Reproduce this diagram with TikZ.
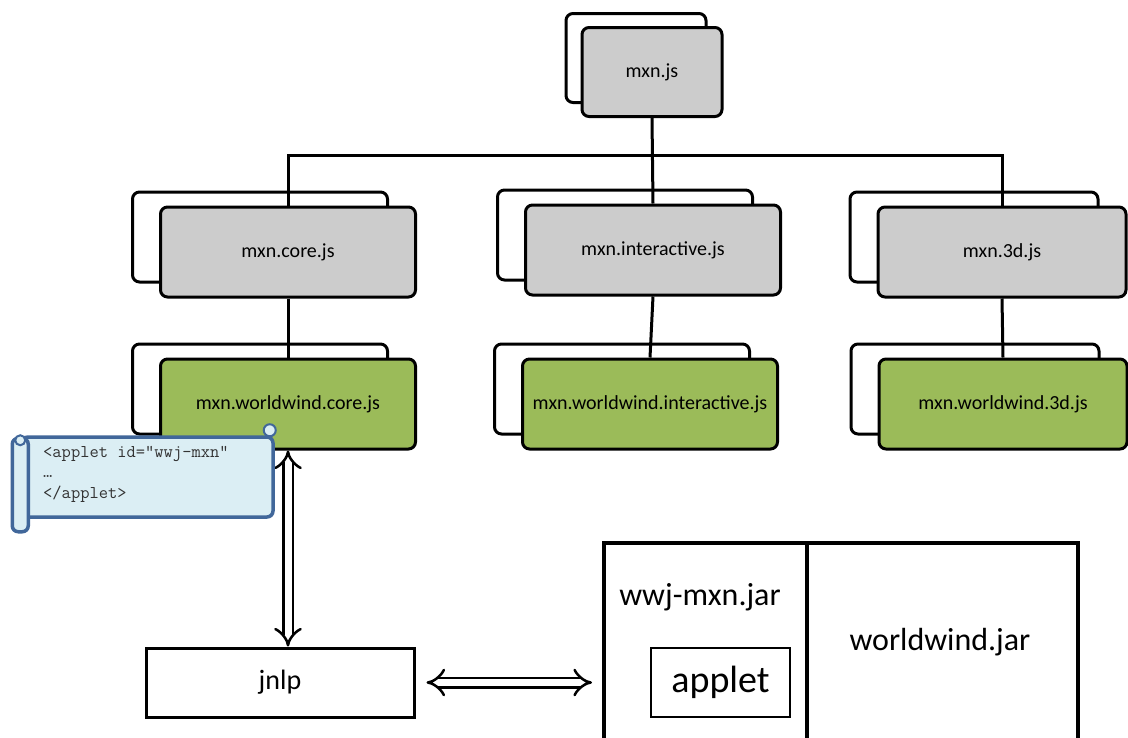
\documentclass[tikz,border=0pt]{standalone}
\usepackage{fontspec}
\setmainfont{Carlito}
\usetikzlibrary{positioning,shadows,arrows.meta}
\definecolor{boxgray}{HTML}{CCCCCC}
\definecolor{wwgreen}{HTML}{9BBB59}
\definecolor{noteblue}{HTML}{41679A}
\definecolor{notefill}{HTML}{DBEEF4}

\begin{document}
\begin{tikzpicture}[x=1pt, y=-1pt,
    stack/.style = {draw, line width=3pt, rounded corners=7pt, inner sep=0pt,
        minimum width=255pt, minimum height=90pt, font=\fontsize{20}{24}\selectfont},
    stackshadow/.style = {copy shadow={shadow xshift=-28pt, shadow yshift=15pt, fill=white, draw=black}},
    core/.style = {stack, fill=boxgray, stackshadow},
    impl/.style = {stack, fill=wwgreen, stackshadow},
    plain/.style = {draw, line width=3pt, inner sep=0pt},
    link/.style = {line width=3pt},
    pipe/.style = {double, double distance=7pt, line width=2.5pt, {Implies[scale=1.3]}-{Implies[scale=1.3]}}]
    \clip (0,0) rectangle (1128,737);

    % js files
    \node[stack, fill=boxgray, minimum width=140pt, minimum height=89pt,
        copy shadow={shadow xshift=-16pt, shadow yshift=14pt, fill=white, draw=black}] (js) at (652,72) {mxn.js};
    \node[core] (core) at (288,252) {mxn.core.js};
    \node[core] (inter) at (653,250) {mxn.interactive.js};
    \node[core, minimum width=248pt] (d3) at (1002,252) {mxn.3d.js};
    \node[impl] (wcore) at (288,404) {mxn.worldwind.core.js};
    \node[impl] (winter) at (650,404) {mxn.worldwind.interactive.js};
    \node[impl, minimum width=248pt] (wd3) at (1003,404) {mxn.worldwind.3d.js};

    \coordinate (bus) at (652,155);
    \draw[link] (js.south) -- (inter.north);
    \draw[link] (core.north) |- (bus) -| (d3.north);
    \draw[link] (core.south) -- (wcore.north);
    \draw[link] (inter.south) -- (winter.north);
    \draw[link] (d3.south) -- (wd3.north);

    % jars
    \node[plain, font=\fontsize{28}{32}\selectfont, minimum width=268pt, minimum height=69pt] (jnlp) at (280,682.5) {jnlp};
    \node[plain, line width=3.5pt, minimum width=203pt, minimum height=204pt, anchor=north west] (wwjjar) at (602,541) {};
    \node[plain, line width=3.5pt, minimum width=271pt, minimum height=204pt, anchor=north west] (wwjar) at (805,541) {};
    \node[font=\fontsize{32}{36}\selectfont] (wwjlabel) at (700,597) {wwj-mxn.jar};
    \node[font=\fontsize{32}{36}\selectfont] (wwlabel) at (940,642) {worldwind.jar};
    \node[draw, line width=2pt, minimum width=139pt, minimum height=69pt, font=\fontsize{38}{40}\selectfont] (applet) at (720.5,682.5) {applet};

    \draw[pipe] (wcore.south) -- (wcore.south |- jnlp.north);
    \draw[pipe, shorten <=11pt, shorten >=10pt] (jnlp.east) -- (jnlp.east -| wwjjar.west);

    % applet tag note
    \node[draw=noteblue, fill=notefill, line width=3.5pt, rounded corners=6pt,
        minimum width=251pt, minimum height=80pt] (note) at (147.5,477) {};
    \draw[draw=noteblue, fill=notefill, line width=3.5pt, rounded corners=6pt]
        ([shift={(-8,3)}]note.north west) rectangle ([shift={(8,13)}]note.south west);
    \draw[noteblue, line width=2pt, fill=notefill] ([shift={(-5,-5)}]note.north east) circle (6);
    \draw[noteblue, line width=2pt, fill=notefill] ([shift={(0,5)}]note.north west) circle (5);
    \node[anchor=north west, align=left, inner sep=0pt, text=black!80,
        font=\ttfamily\fontsize{18}{20.5}\selectfont] (code) at (43,446) {<applet id="wwj-mxn"\\…\\</applet>};
\end{tikzpicture}
\end{document}
